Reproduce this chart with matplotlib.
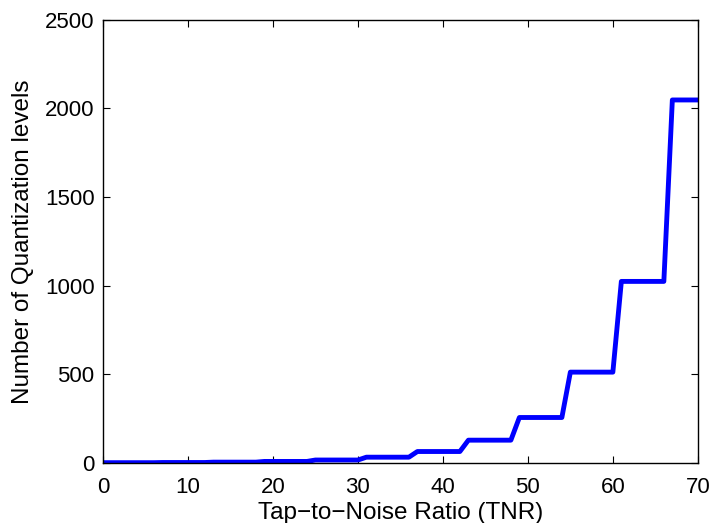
import matplotlib
matplotlib.use("Agg")
import matplotlib.pyplot as plt

# corner points of the step curve
tnr = [0, 6, 7, 12, 13, 18, 19, 24, 25, 30, 31, 36, 37, 42, 43, 48,
       49, 54, 55, 60, 61, 66, 67, 70]
levels = [1, 1, 2, 2, 4, 4, 8, 8, 16, 16, 32, 32, 64, 64, 128, 128,
          256, 256, 512, 512, 1024, 1024, 2048, 2048]

xticks = [0, 10, 20, 30, 40, 50, 60, 70]
yticks = [0, 500, 1000, 1500, 2000, 2500]

plt.rcParams['font.family'] = ['Liberation Sans', 'DejaVu Sans']
plt.rcParams['font.size'] = 16

fig = plt.figure(figsize=(7.15, 5.23), dpi=100)
ax = fig.add_axes([0.144, 0.115, 0.832, 0.847])

ax.plot(tnr, levels, color=(0, 0, 1), linewidth=3.5)

ax.set_xlim(0, 70)
ax.set_ylim(0, 2500)
ax.set_xticks(xticks)
ax.set_yticks(yticks)
ax.tick_params(direction='in', top=True, right=True, length=5, width=0.8, pad=6,
               labelsize=16)
ax.tick_params(axis='x', pad=10)
for s in ax.spines.values():
    s.set_linewidth(1.0)

ax.set_xlabel('Tap\u2212to\u2212Noise Ratio (TNR)', fontsize=17.5, labelpad=3)
ax.set_ylabel('Number of Quantization levels', fontsize=17.5, labelpad=8)

fig.savefig('out.png', dpi=100)
